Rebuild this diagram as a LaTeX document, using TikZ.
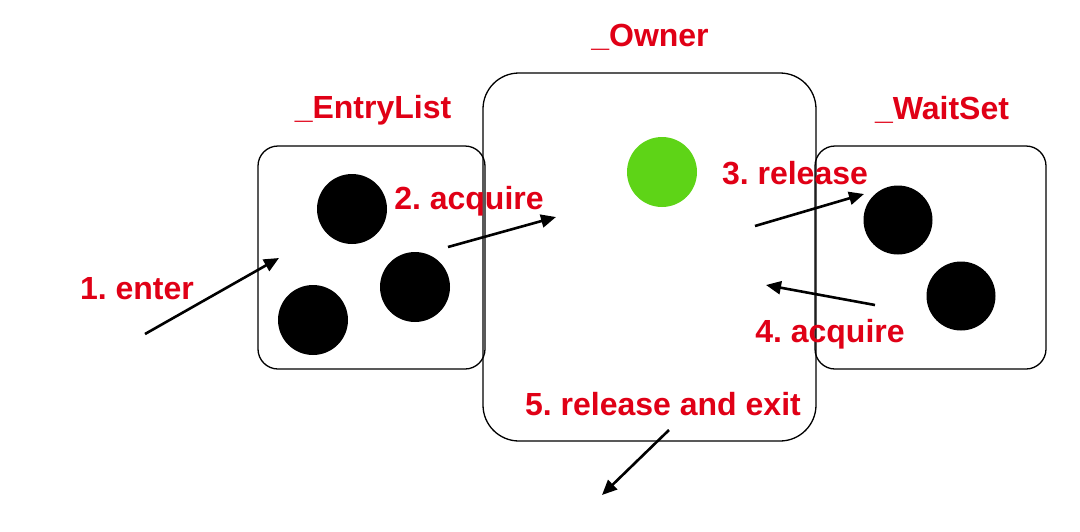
\documentclass[tikz,border=0pt]{standalone}
\usepackage{fontspec}
\setmainfont{Liberation Sans}
\usetikzlibrary{arrows.meta}
\definecolor{lblred}{RGB}{224,0,22}
\definecolor{ballgreen}{RGB}{94,212,23}
\frenchspacing
\begin{document}
\begin{tikzpicture}[x=1pt,y=-1pt,
  box/.style={draw=black,line width=1.3pt},
  ball/.style={circle,fill=black,inner sep=0pt,minimum size=70pt},
  lbl/.style={text=lblred,font=\fontsize{32}{38}\selectfont\bfseries,inner sep=0pt},
  arr/.style={line width=2.6pt,-{Triangle[length=15pt,width=13pt]}}]
\useasboundingbox (0,0) rectangle (1080,531);
\draw[box,rounded corners=20pt] (258,146) rectangle (485,369);
\draw[box,rounded corners=20pt] (815,146) rectangle (1046,369);
\draw[box,rounded corners=36pt] (483,73) rectangle (816,441);
\node[lbl] (tOwner) at (650,37) {\_Owner};
\node[lbl] (tEntry) at (373,110) {\_EntryList};
\node[lbl] (tWait) at (942,110) {\_WaitSet};
\node[ball] (e1) at (352,209) {};
\node[ball] (e2) at (415,287) {};
\node[ball] (e3) at (313,320) {};
\node[ball,minimum size=69pt] (w1) at (898,220) {};
\node[ball,minimum size=69pt] (w2) at (961,296) {};
\node[ball,fill=ballgreen] (g) at (662,172) {};
\coordinate (a1s) at (145,334); \coordinate (a1e) at (279,258);
\coordinate (a2s) at (448,247); \coordinate (a2e) at (556,217);
\coordinate (a3s) at (755,226); \coordinate (a3e) at (864,194);
\coordinate (a4s) at (875,305); \coordinate (a4e) at (766,285);
\coordinate (a5s) at (669,430); \coordinate (a5e) at (602,495);
\draw[arr] (a1s) -- (a1e);
\draw[arr] (a2s) -- (a2e);
\draw[arr] (a3s) -- (a3e);
\draw[arr] (a4s) -- (a4e);
\draw[arr] (a5s) -- (a5e);
\node[lbl] (l1) at (137,289) {1. enter};
\node[lbl] (l2) at (469,201) {2. acquire};
\node[lbl] (l3) at (795,173) {3. release};
\node[lbl] (l4) at (830,334) {4. acquire};
\node[lbl] (l5) at (663,404) {5. release and exit};
\end{tikzpicture}
\end{document}
